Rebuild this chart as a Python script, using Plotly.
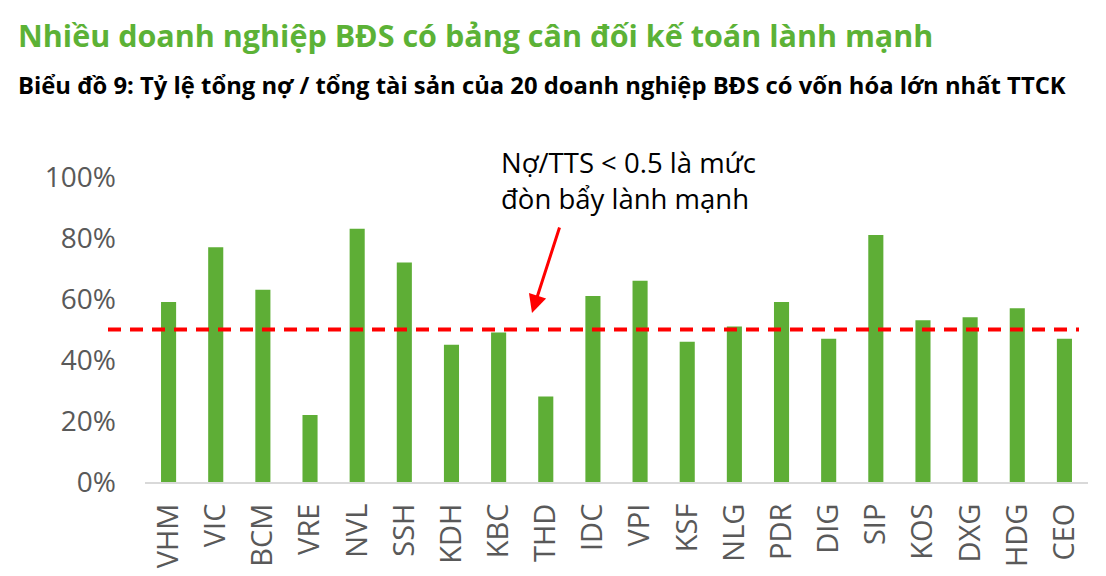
import plotly.graph_objects as go

# ---- data ----
tickers = ["VHM", "VIC", "BCM", "VRE", "NVL", "SSH", "KDH", "KBC", "THD", "IDC",
           "VPI", "KSF", "NLG", "PDR", "DIG", "SIP", "KOS", "DXG", "HDG", "CEO"]
debt_to_assets = [0.59, 0.77, 0.63, 0.22, 0.83, 0.72, 0.45, 0.49, 0.28, 0.61,
                  0.66, 0.46, 0.51, 0.59, 0.47, 0.81, 0.53, 0.54, 0.57, 0.47]
threshold = 0.5
y_ticks = [0, 0.2, 0.4, 0.6, 0.8, 1.0]
y_tick_labels = ["0%", "20%", "40%", "60%", "80%", "100%"]

title_text = "Nhiều doanh nghiệp BĐS có bảng cân đối kế toán lành mạnh"
subtitle_text = "Biểu đồ 9: Tỷ lệ tổng nợ / tổng tài sản của 20 doanh nghiệp BĐS có vốn hóa lớn nhất TTCK"
note_text = "Nợ/TTS < 0.5 là mức<br>đòn bẩy lành mạnh"

W, H = 1106, 576
ML, MR, MT, MB = 145, 18, 177, 94
PW = W - ML - MR
PH = H - MT - MB


def px_x(px):
    return (px - ML) / PW


def px_y(py):
    return (H - MB - py) / PH


FONT = "Open Sans"
GRAY = "#595959"
GREEN = "#5eae36"

fig = go.Figure()
fig.add_trace(go.Bar(
    x=tickers, y=debt_to_assets, marker=dict(color=GREEN, line=dict(width=0)),
    hoverinfo="x+y",
))

fig.update_layout(
    width=W, height=H,
    margin=dict(l=ML, r=MR, t=MT, b=MB, autoexpand=False),
    paper_bgcolor="white", plot_bgcolor="white",
    bargap=0.68,
    showlegend=False,
    font=dict(family=FONT, color=GRAY),
    xaxis=dict(
        type="category", automargin=False,
        showgrid=False, zeroline=False,
        showline=True, linecolor="#d9d9d9", linewidth=2,
        tickangle=-90, ticks="", ticklabelstandoff=8,
        tickfont=dict(family=FONT, size=29, color=GRAY),
    ),
    yaxis=dict(
        range=[0, 1.0], automargin=False,
        tickvals=y_ticks, ticktext=y_tick_labels,
        showgrid=False, zeroline=False, showline=False,
        ticks="", ticklabelstandoff=28,
        tickfont=dict(family=FONT, size=28, color=GRAY),
    ),
)

# threshold dashed line
fig.add_shape(
    type="line", xref="paper", yref="y",
    x0=px_x(108), x1=px_x(1079), y0=threshold, y1=threshold,
    line=dict(color="#ff0000", width=4, dash="13px,9px"),
    layer="above",
)

# titles
fig.add_annotation(
    text="<b>" + title_text + "</b>", xref="paper", yref="paper",
    x=px_x(16), y=px_y(12), xanchor="left", yanchor="top", showarrow=False,
    font=dict(family=FONT, size=30.5, color="#5cb236"),
)
fig.add_annotation(
    text="<b>" + subtitle_text + "</b>", xref="paper", yref="paper",
    x=px_x(16), y=px_y(67), xanchor="left", yanchor="top", showarrow=False,
    font=dict(family=FONT, size=23.8, color="#000000"),
)

# note text
fig.add_annotation(
    text=note_text, xref="paper", yref="paper", align="left",
    x=px_x(499), y=px_y(142), xanchor="left", yanchor="top", showarrow=False,
    font=dict(family=FONT, size=27.5, color="#000000"),
)

# arrow
fig.add_annotation(
    text="", xref="paper", yref="paper",
    x=px_x(532), y=px_y(313), ax=28, ay=-87,
    showarrow=True, arrowhead=2, arrowsize=1.2, arrowwidth=3, arrowcolor="#ff0000",
    standoff=0,
)

fig.write_html("out.html")
